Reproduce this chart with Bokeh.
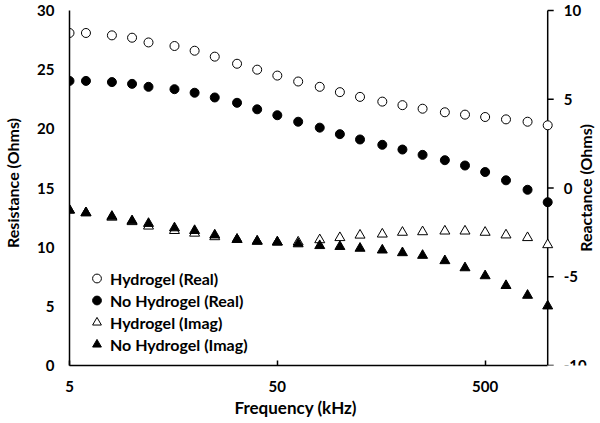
import math
from bokeh.plotting import figure
from bokeh.models import (Range1d, FixedTicker, Legend, LegendItem,
                          NumeralTickFormatter, Title)
from bokeh.core.properties import value
from bokeh.embed import file_html
from bokeh.resources import INLINE

# ---- data ----
freq_khz = [5, 6, 8, 10, 12, 16, 20, 25, 32, 40, 50, 63, 80, 100, 125, 160,
            200, 250, 320, 400, 500, 630, 800, 1000]
hydrogel_real = [28.1, 28.1, 27.9, 27.7, 27.3, 27.0, 26.6, 26.1, 25.5, 25.0,
                 24.5, 24.0, 23.55, 23.1, 22.7, 22.3, 22.0, 21.7, 21.4, 21.2,
                 21.0, 20.8, 20.6, 20.3]
nohydrogel_real = [24.05, 24.05, 23.95, 23.8, 23.55, 23.35, 23.05, 22.65,
                   22.2, 21.65, 21.15, 20.6, 20.1, 19.55, 19.1, 18.65, 18.25,
                   17.8, 17.35, 16.9, 16.35, 15.65, 14.85, 13.8]
hydrogel_imag = [-1.25, -1.4, -1.65, -1.9, -2.15, -2.4, -2.55, -2.75, -2.9,
                 -3.0, -3.05, -3.05, -2.92, -2.8, -2.66, -2.6, -2.5, -2.47,
                 -2.43, -2.43, -2.5, -2.65, -2.8, -3.2]
nohydrogel_imag = [-1.25, -1.4, -1.6, -1.85, -2.0, -2.25, -2.4, -2.65, -2.9,
                   -3.0, -3.05, -3.15, -3.25, -3.3, -3.4, -3.5, -3.65, -3.8,
                   -4.1, -4.5, -4.95, -5.5, -6.05, -6.65]

x_ticks = [5, 50, 500]
left_ticks = [0, 5, 10, 15, 20, 25, 30]
right_ticks = [-10, -5, 0, 5, 10]
x_title = "Frequency (kHz)"
left_title = "Resistance (Ohms)"
right_title = "Reactance (Ohms)"

FONT = "Lato"
X_START, X_END = 5, 1000          # frequency axis extent (kHz)
L_START, L_END = 0, 30            # resistance axis
R_START, R_END = -10, 10          # reactance axis

# layout (pixels)
WIDTH, HEIGHT = 600, 423
BORDER_L, BORDER_B, BORDER_T = 67, 58, 0
AXES_W = 480                      # width of the 5..1000 span
TOP_PAD = 10                      # room above the top tick value
FRAME_W = WIDTH - BORDER_L
FRAME_H = HEIGHT - BORDER_B - BORDER_T

# the drawing area extends past the right axis so the right-hand
# axis (drawn as glyphs) and its title are not clipped
x_max = X_END * (X_END / X_START) ** ((FRAME_W - AXES_W) / AXES_W)
l_max = L_END + (L_END - L_START) * TOP_PAD / (FRAME_H - TOP_PAD)
r_max = R_START + (R_END - R_START) * (l_max - L_START) / (L_END - L_START)

p = figure(width=WIDTH, height=HEIGHT, x_axis_type="log",
           x_range=Range1d(X_START, x_max), y_range=Range1d(L_START, l_max),
           output_backend="svg", toolbar_location=None,
           min_border_left=BORDER_L, min_border_right=0,
           min_border_top=BORDER_T, min_border_bottom=BORDER_B)
p.extra_y_ranges = {"react": Range1d(R_START, r_max)}
p.outline_line_color = None
p.grid.visible = False
p.background_fill_color = "white"
p.border_fill_color = "white"

# x axis
xa = p.xaxis[0]
xa.bounds = (X_START, X_END)
xa.ticker = FixedTicker(ticks=x_ticks, minor_ticks=[])
xa.formatter = NumeralTickFormatter(format="0")
xa.major_tick_in = 5
xa.major_tick_out = 0
xa.minor_tick_in = 0
xa.minor_tick_out = 0
xa.major_label_standoff = 15

# left axis
ya = p.yaxis[0]
ya.bounds = (L_START, L_END)
ya.ticker = FixedTicker(ticks=left_ticks, minor_ticks=[])
ya.major_tick_in = 0
ya.major_tick_out = 0
ya.minor_tick_in = 0
ya.minor_tick_out = 0
ya.major_label_standoff = 15
ya.axis_label = left_title
ya.axis_label_standoff = 12
ya.axis_label_text_font_size = "16px"

for ax in (xa, ya):
    ax.axis_line_color = "black"
    ax.axis_line_width = 1.5
    ax.major_tick_line_color = "black"
    ax.major_tick_line_width = 1.5
    ax.major_label_text_font = FONT
    ax.major_label_text_font_style = "bold"
    ax.major_label_text_font_size = "15px"
    ax.major_label_text_color = "black"
    ax.axis_label_text_font = FONT
    ax.axis_label_text_font_style = "bold"
    ax.axis_label_text_color = "black"

# x title, centred under the 5..1000 span rather than the whole frame
p.add_layout(Title(text=x_title, align="left", offset=165, standoff=0,
                   text_font=FONT, text_font_style="bold",
                   text_font_size="17px", text_color="black"), "below")

# right (reactance) axis at x = X_END: line, outward ticks, labels, title
p.segment(x0=[X_END], y0=[R_START], x1=[X_END], y1=[R_END],
          y_range_name="react", line_color="black", line_width=1.5)
p.ray(x=[X_END] * len(right_ticks), y=right_ticks, length=6,
      length_units="screen", angle=0, y_range_name="react",
      line_color="black", line_width=1.5)
upper = [t for t in right_ticks if t != R_START]
p.text(x=[X_END] * len(upper), y=upper,
       text=[str(t) for t in upper], x_offset=16,
       text_align="left", text_baseline="middle", y_range_name="react",
       text_font=value(FONT), text_font_style="bold",
       text_font_size="15px", text_color="black")
# bottom label sits on its tick so it is not cut by the plot edge
p.text(x=[X_END], y=[R_START], text=[str(R_START)], x_offset=16,
       text_align="left", text_baseline="alphabetic", y_range_name="react",
       text_font=value(FONT), text_font_style="bold",
       text_font_size="15px", text_color="black")
p.text(x=[X_END], y=[(R_START + R_END) / 2], text=[right_title],
       x_offset=38, angle=math.pi / 2, text_align="center",
       text_baseline="middle", y_range_name="react",
       text_font=value(FONT), text_font_style="bold",
       text_font_size="16px", text_color="black")

r1 = p.scatter(freq_khz, hydrogel_real, marker="circle", size=9,
               fill_color="white", line_color="black", line_width=1)
r2 = p.scatter(freq_khz, nohydrogel_real, marker="circle", size=9,
               fill_color="black", line_color="black", line_width=1)
r3 = p.scatter(freq_khz, hydrogel_imag, marker="triangle", size=10,
               fill_color="white", line_color="black", line_width=1,
               y_range_name="react")
r4 = p.scatter(freq_khz, nohydrogel_imag, marker="triangle", size=10,
               fill_color="black", line_color="black", line_width=1,
               y_range_name="react")

legend = Legend(items=[
    LegendItem(label="Hydrogel (Real)", renderers=[r1]),
    LegendItem(label="No Hydrogel (Real)", renderers=[r2]),
    LegendItem(label="Hydrogel (Imag)", renderers=[r3]),
    LegendItem(label="No Hydrogel (Imag)", renderers=[r4]),
], location=(15, 10))
legend.border_line_color = None
legend.background_fill_alpha = 0
legend.padding = 0
legend.margin = 0
legend.spacing = 0
legend.glyph_width = 25
legend.glyph_height = 22
legend.label_height = 22
legend.label_standoff = 1
legend.label_text_font = FONT
legend.label_text_font_style = "bold"
legend.label_text_font_size = "16px"
legend.label_text_color = "black"
p.add_layout(legend)

open("out.html", "w").write(file_html(p, INLINE))
